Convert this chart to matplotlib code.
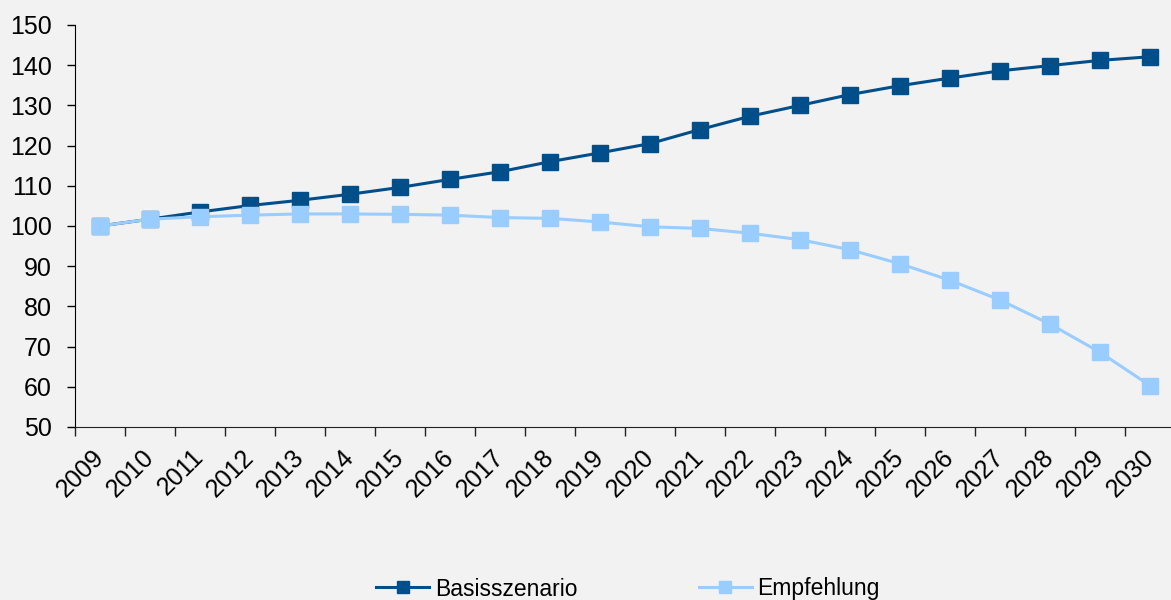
import matplotlib
matplotlib.use("Agg")
import matplotlib.pyplot as plt
import numpy as np

years = [str(y) for y in range(2009, 2031)]
basis = [100.0, 101.7, 103.5, 105.1, 106.4, 107.9, 109.6, 111.6, 113.5, 116.0, 118.2,
         120.5, 124.0, 127.3, 130.0, 132.7, 134.9, 136.8, 138.6, 139.9, 141.2, 142.1]
empf = [100.0, 101.7, 102.3, 102.7, 103.0, 103.0, 102.9, 102.7, 102.1, 101.9, 101.0,
        99.8, 99.4, 98.2, 96.6, 94.1, 90.6, 86.5, 81.6, 75.6, 68.6, 60.3]
series_names = ["Basisszenario", "Empfehlung"]
yticks = list(range(50, 151, 10))

plt.rcParams['font.family'] = ['Liberation Sans', 'DejaVu Sans']

bg = '#F2F2F2'
dark = '#004F8B'
light = '#99CCFF'

fig = plt.figure(figsize=(11.71, 6.0), dpi=100, facecolor=bg)
ax = fig.add_axes([75/1171, 1-427/600, 1100/1171, (427-25)/600])
ax.set_facecolor(bg)

x = np.arange(len(years))
ax.plot(x, basis, color=dark, lw=2.2, marker='s', ms=11, mec=dark, mfc=dark,
        label=series_names[0], zorder=3, clip_on=False)
ax.plot(x, empf, color=light, lw=2.2, marker='s', ms=11, mec=light, mfc=light,
        label=series_names[1], zorder=4, clip_on=False)

ax.set_xlim(-0.5, len(years) - 0.5)
ax.set_ylim(50, 150)
ax.set_yticks(yticks)
ax.tick_params(axis='y', direction='out', length=6, width=1, pad=10.5, labelsize=18, colors='black')
ax.set_xticks(x)
ax.set_xticklabels(years, rotation=45, ha='right', va='center', rotation_mode='anchor', fontsize=18)
ax.tick_params(axis='x', which='major', length=0, pad=19)
ax.set_xticks(np.arange(-0.5, len(years), 1), minor=True)
ax.tick_params(axis='x', which='minor', direction='out', length=6.5, width=1, color='#222222')

for s in ['top', 'right']:
    ax.spines[s].set_visible(False)
ax.spines['left'].set_color('black')
ax.spines['bottom'].set_color('#222222')

fig.legend(loc='center', bbox_to_anchor=(628/1171, 1-589/600), ncol=2, frameon=False,
           fontsize=16.5, handlelength=2.3, columnspacing=5.3, handletextpad=0.25,
           markerscale=0.8)

fig.savefig('out.png', dpi=100, facecolor=bg)
